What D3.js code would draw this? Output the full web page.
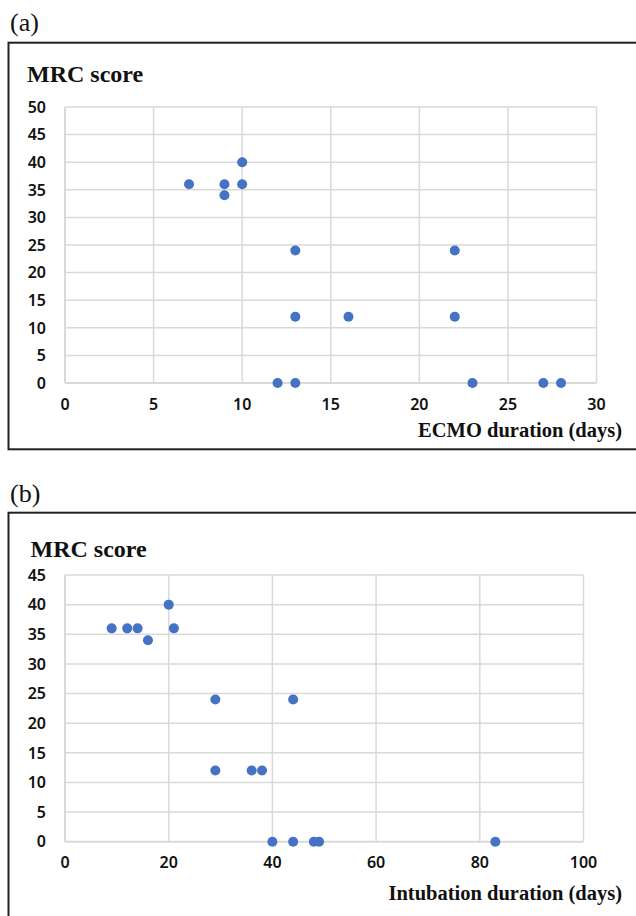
<!DOCTYPE html>
<html>
<head>
<meta charset="utf-8">
<script src="https://cdn.jsdelivr.net/npm/d3@7"></script>
<style>
  body { margin: 0; background: #fff; }
  svg { display: block; }
  .tick-label { font-family: "Noto Sans", sans-serif; font-weight: 600; font-size: 16px; fill: #111; }
  .serif { font-family: "Liberation Serif", "Times New Roman", serif; fill: #111; }
</style>
</head>
<body>
<div id="chart"></div>
<script>
// panel (a): ECMO duration vs MRC score
const ecmoDays = [7, 9, 9, 10, 10, 13, 13, 12, 13, 16, 22, 22, 23, 27, 28];
const ecmoMrc  = [36, 36, 34, 40, 36, 24, 12, 0, 0, 12, 24, 12, 0, 0, 0];
const ecmoXTicks = [0, 5, 10, 15, 20, 25, 30];
const ecmoYTicks = [0, 5, 10, 15, 20, 25, 30, 35, 40, 45, 50];

// panel (b): intubation duration vs MRC score
const intubDays = [9, 12, 14, 16, 20, 21, 29, 29, 36, 38, 44, 40, 44, 48, 49, 83];
const intubMrc  = [36, 36, 36, 34, 40, 36, 24, 12, 12, 12, 24, 0, 0, 0, 0, 0];
const intubXTicks = [0, 20, 40, 60, 80, 100];
const intubYTicks = [0, 5, 10, 15, 20, 25, 30, 35, 40, 45];

const W = 636, H = 916;
const dotColor = '#4472C4';
const gridColor = '#d9d9d9';

const svg = d3.select('#chart').append('svg')
  .attr('width', W)
  .attr('height', H);

function drawPanel(opt) {
  const g = svg.append('g');

  // panel letter
  g.append('text')
    .attr('class', 'serif')
    .attr('x', 10)
    .attr('y', opt.letterY)
    .attr('font-size', 26)
    .text(opt.letter);

  // outer frame (runs off the right edge, and for (b) off the bottom)
  g.append('rect')
    .attr('x', 8.5)
    .attr('y', opt.boxTop)
    .attr('width', W + 20)
    .attr('height', opt.boxBottom - opt.boxTop)
    .attr('fill', 'none')
    .attr('stroke', '#222')
    .attr('stroke-width', 2);

  const x = d3.scaleLinear()
    .domain([0, opt.xMax])
    .range([opt.left, opt.right]);
  const y = d3.scaleLinear()
    .domain([0, opt.yMax])
    .range([opt.bottom, opt.top]);

  // grid
  g.append('g')
    .selectAll('line')
    .data(opt.yTicks)
    .enter().append('line')
    .attr('x1', opt.left).attr('x2', opt.right)
    .attr('y1', d => y(d)).attr('y2', d => y(d))
    .attr('stroke', gridColor)
    .attr('stroke-width', d => d === 0 ? 2 : 1.5);

  g.append('g')
    .selectAll('line')
    .data(opt.xTicks)
    .enter().append('line')
    .attr('x1', d => x(d)).attr('x2', d => x(d))
    .attr('y1', opt.top).attr('y2', opt.bottom)
    .attr('stroke', gridColor)
    .attr('stroke-width', d => d === 0 ? 2 : 1.5);

  // tick labels
  g.append('g')
    .selectAll('text')
    .data(opt.yTicks)
    .enter().append('text')
    .attr('class', 'tick-label')
    .attr('x', opt.left - 19)
    .attr('y', d => y(d))
    .attr('dy', '0.36em')
    .attr('text-anchor', 'end')
    .text(d => d);

  g.append('g')
    .selectAll('text')
    .data(opt.xTicks)
    .enter().append('text')
    .attr('class', 'tick-label')
    .attr('x', d => x(d))
    .attr('y', opt.bottom + 21)
    .attr('dy', '0.36em')
    .attr('text-anchor', 'middle')
    .text(d => d);

  // axis titles
  g.append('text')
    .attr('class', 'serif')
    .attr('x', opt.yTitleX)
    .attr('y', opt.yTitleY)
    .attr('font-size', 24)
    .attr('font-weight', 'bold')
    .text('MRC score');

  g.append('text')
    .attr('class', 'serif')
    .attr('x', 622)
    .attr('y', opt.xTitleY)
    .attr('font-size', 20.5)
    .attr('font-weight', 'bold')
    .attr('text-anchor', 'end')
    .text(opt.xTitle);

  // points
  g.append('g')
    .selectAll('circle')
    .data(opt.xs.map((v, i) => ({ x: v, y: opt.ys[i] })))
    .enter().append('circle')
    .attr('cx', d => x(d.x))
    .attr('cy', d => y(d.y))
    .attr('r', 5)
    .attr('fill', dotColor);
}

drawPanel({
  letter: '(a)', letterY: 31,
  boxTop: 42.7, boxBottom: 449.3,
  left: 65, right: 596.5, top: 107, bottom: 383,
  xMax: 30, yMax: 50,
  xTicks: ecmoXTicks, yTicks: ecmoYTicks,
  xs: ecmoDays, ys: ecmoMrc,
  yTitleX: 27, yTitleY: 82,
  xTitle: 'ECMO duration (days)', xTitleY: 437
});

drawPanel({
  letter: '(b)', letterY: 501.5,
  boxTop: 512.7, boxBottom: 940,
  left: 65, right: 583.5, top: 575, bottom: 841.7,
  xMax: 100, yMax: 45,
  xTicks: intubXTicks, yTicks: intubYTicks,
  xs: intubDays, ys: intubMrc,
  yTitleX: 30.5, yTitleY: 557,
  xTitle: 'Intubation duration (days)', xTitleY: 900
});
</script>
</body>
</html>
